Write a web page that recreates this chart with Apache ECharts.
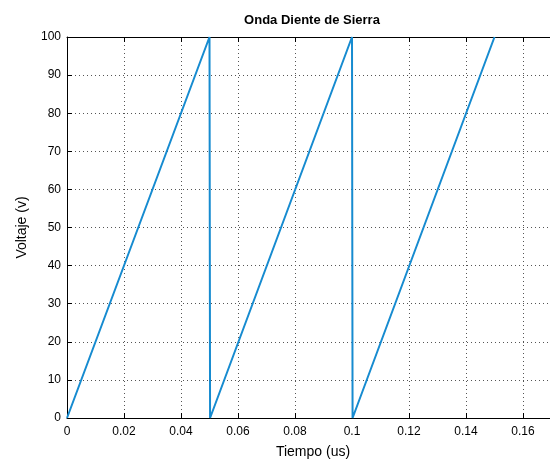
<!DOCTYPE html>
<html>
<head>
<meta charset="utf-8">
<script src="https://cdn.jsdelivr.net/npm/echarts@6/dist/echarts.min.js"></script>
<style>
  html, body { margin: 0; padding: 0; background: #fff; }
  #chart { width: 550px; height: 466px; }
</style>
</head>
<body>
<div id="chart"></div>
<script>
// datos de la onda
var tiempo = [0, 0.05, 0.0502, 0.1, 0.1002, 0.15];
var voltaje = [0, 100, 0, 100, 0, 100];

var chart = echarts.init(document.getElementById('chart'));

var puntos = tiempo.map(function (t, i) { return [t, voltaje[i]]; });

var gridLine = {show: true, lineStyle: {color: '#555', type: [1, 3], width: 1}};
var fuente = 'Liberation Sans, Arial, sans-serif';

var option = {
  backgroundColor: '#fff',
  animation: false,
  title: [{
    text: 'Onda Diente de Sierra',
    left: 307, top: 9,
    textAlign: 'center',
    textStyle: {fontSize: 13, fontWeight: 'bold', color: '#000', fontFamily: fuente}
  }, {
    // etiqueta del eje x (el grafico original esta recortado a la derecha)
    text: 'Tiempo (us)',
    left: 308, top: 440,
    textAlign: 'center',
    textStyle: {fontSize: 14, fontWeight: 'normal', color: '#000', fontFamily: fuente}
  }],
  grid: {left: 67, top: 37, width: 513, height: 381, outerBoundsMode: 'none'},
  xAxis: [{
    type: 'value',
    min: 0, max: 0.18, interval: 0.02,
    axisLine: {show: true, lineStyle: {color: '#000', width: 1}},
    axisTick: {show: true, inside: true, length: 5, lineStyle: {color: '#000'}},
    axisLabel: {
      fontSize: 12, color: '#000', fontFamily: fuente, margin: 8,
      formatter: function (v) { return String(+v.toFixed(2)); }
    },
    splitLine: gridLine
  }, {
    type: 'value',
    position: 'top',
    min: 0, max: 0.18, interval: 0.02,
    axisLine: {show: true, lineStyle: {color: '#000', width: 1}},
    axisTick: {show: true, inside: true, length: 5, lineStyle: {color: '#000'}},
    axisLabel: {show: false},
    splitLine: {show: false}
  }],
  yAxis: {
    type: 'value',
    min: 0, max: 100, interval: 10,
    name: 'Voltaje (v)',
    nameLocation: 'middle',
    nameGap: 38,
    nameRotate: 90,
    nameTextStyle: {fontSize: 14, color: '#000', fontFamily: fuente},
    axisLine: {show: true, lineStyle: {color: '#000', width: 1}},
    axisTick: {show: true, inside: true, length: 5, lineStyle: {color: '#000'}},
    axisLabel: {fontSize: 12, color: '#000', fontFamily: fuente, margin: 6},
    splitLine: gridLine
  },
  series: [{
    type: 'line',
    data: puntos,
    showSymbol: false,
    clip: true,
    lineStyle: {color: '#168bd0', width: 2}
  }]
};

chart.setOption(option);
</script>
</body>
</html>
